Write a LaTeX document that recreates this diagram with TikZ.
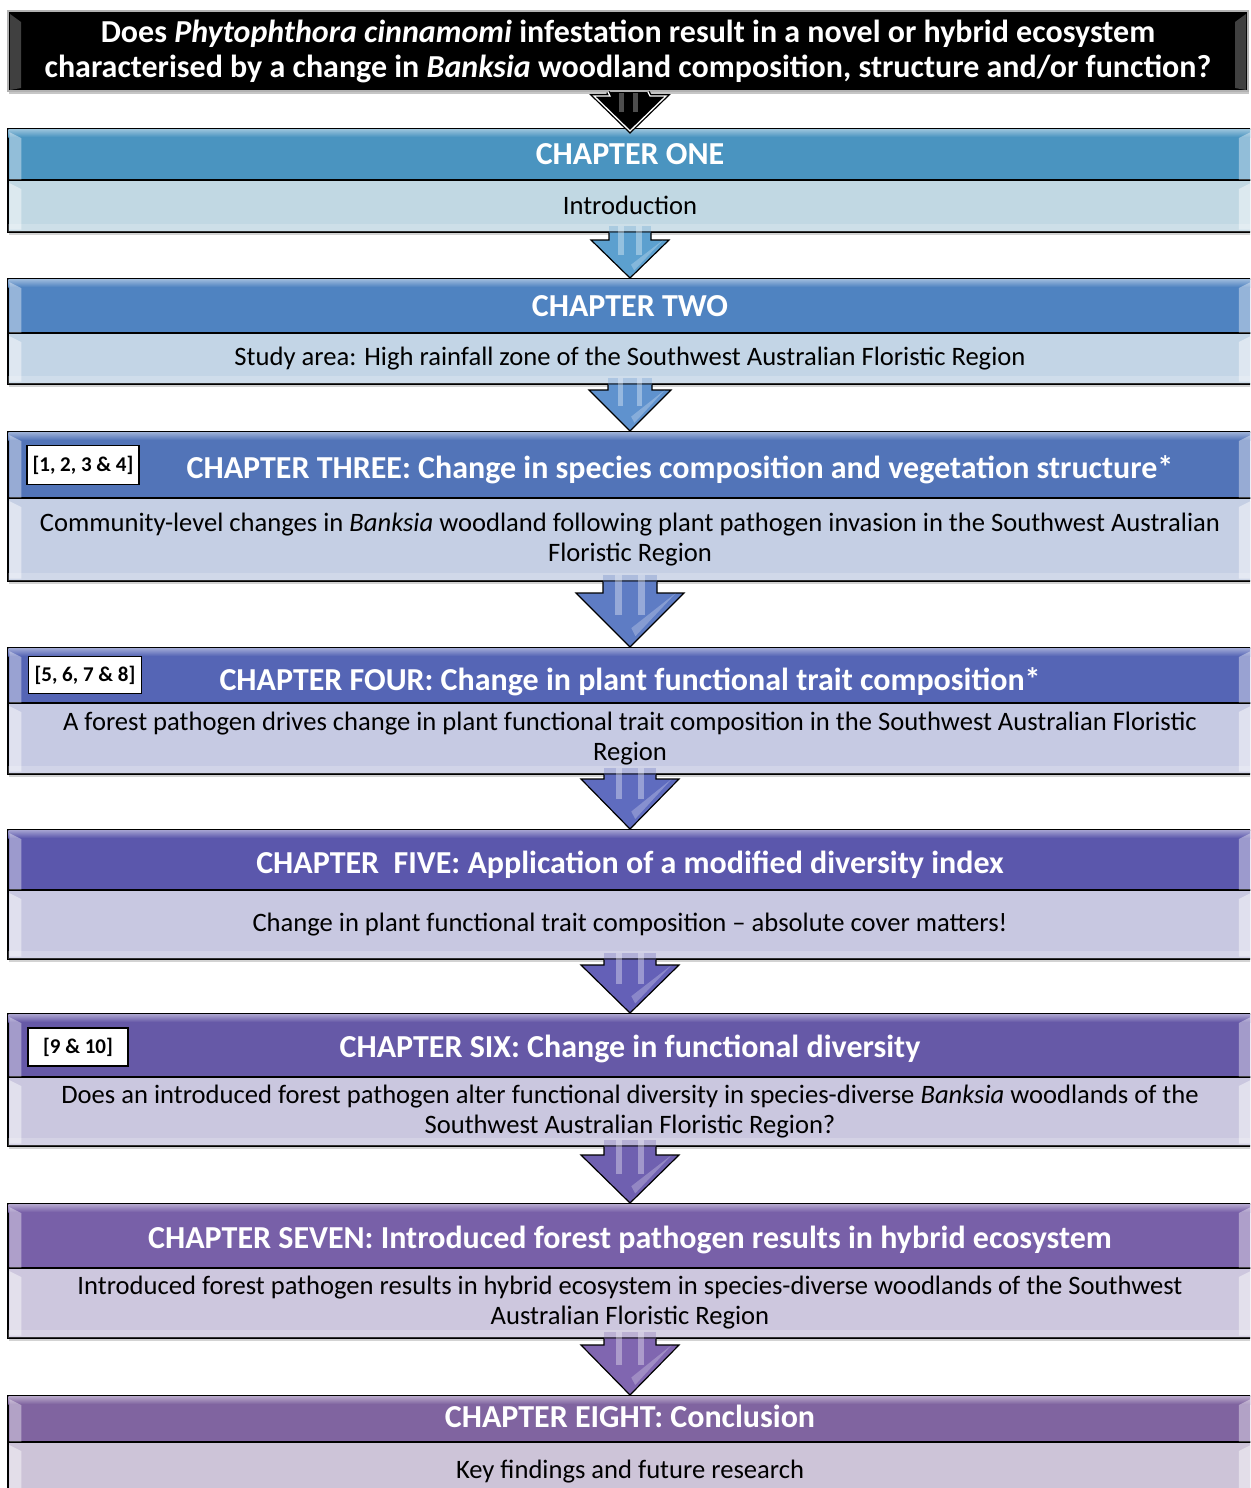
\documentclass[tikz,border=0pt]{standalone}
\usepackage{fontspec}
\setmainfont{Carlito}
\usetikzlibrary{calc,shadows}
\definecolor{h1}{RGB}{74,148,192}\definecolor{b1}{RGB}{193,216,227}\definecolor{a1}{RGB}{92,160,207}
\definecolor{h2}{RGB}{79,131,193}\definecolor{b2}{RGB}{195,213,230}\definecolor{a2}{RGB}{95,146,206}
\definecolor{h3}{RGB}{82,116,184}\definecolor{b3}{RGB}{197,207,228}\definecolor{a3}{RGB}{94,124,196}
\definecolor{h4}{RGB}{85,101,181}\definecolor{b4}{RGB}{198,202,227}\definecolor{a4}{RGB}{95,108,191}
\definecolor{h5}{RGB}{91,87,172}\definecolor{b5}{RGB}{200,200,225}\definecolor{a5}{RGB}{100,96,183}
\definecolor{h6}{RGB}{102,89,167}\definecolor{b6}{RGB}{202,199,223}\definecolor{a6}{RGB}{111,96,176}
\definecolor{h7}{RGB}{120,96,168}\definecolor{b7}{RGB}{205,199,222}\definecolor{a7}{RGB}{128,102,176}
\definecolor{h8}{RGB}{128,100,160}
\definecolor{b8}{RGB}{205,196,216}
\newcommand\titlefont{\bfseries\fontsize{32}{36}\selectfont}
\tikzset{
  hdr/.style={rectangle, draw=black, line width=1.5pt, minimum width=1244pt, anchor=north,
    inner sep=0pt},
  bdy/.style={rectangle, draw=black, line width=1.5pt, minimum width=1244pt, anchor=north,
    inner sep=0pt, font=\fontsize{26.6}{30}\selectfont, align=center,
    drop shadow={shadow xshift=1pt, shadow yshift=-3pt, opacity=0.35}},
  tagbox/.style={rectangle, draw=black, fill=white, line width=1.5pt, inner sep=0pt,
    font=\bfseries\fontsize{21}{24}\selectfont},
  qbox/.style={rectangle, draw=gray!60, fill=black, line width=2pt, minimum width=1240pt,
    minimum height=80pt, anchor=north, inner sep=0pt, align=center, text=white,
    font=\bfseries\fontsize{32}{35}\selectfont,
    drop shadow={shadow xshift=1pt, shadow yshift=-3pt, opacity=0.45}},
}
% name, top, divider, bottom, header colour, body colour, title, body text, title yshift
\newcommand\chapbox[9]{%
  \node[bdy, fill=#6, minimum height={#4-#3}] (#1b) at (630,#3) {#8};
  \node[hdr, fill=#5, minimum height={#3-#2}] (#1h) at (630,#2) {};
  \shade[top color=white!45!#5, bottom color=#5] ($(#1h.north west)+(1,1)$) rectangle ($(#1h.north east)+(-1,9)$);
  \fill[white, opacity=0.4] ($(#1h.north west)+(2,4)$) -- ($(#1h.north west)+(14,10)$) -- ($(#1h.south west)+(14,-1)$) -- ($(#1h.south west)+(2,-1)$) -- cycle;
  \fill[white, opacity=0.4] ($(#1h.north east)+(-2,4)$) -- ($(#1h.north east)+(-14,10)$) -- ($(#1h.south east)+(-14,-1)$) -- ($(#1h.south east)+(-2,-1)$) -- cycle;
  \fill[white, opacity=0.45] ($(#1b.north west)+(2,4)$) -- ($(#1b.north west)+(14,10)$) -- ($(#1b.south west)+(14,-3)$) -- ($(#1b.south west)+(2,-3)$) -- cycle;
  \fill[white, opacity=0.45] ($(#1b.north east)+(-2,4)$) -- ($(#1b.north east)+(-14,10)$) -- ($(#1b.south east)+(-14,-3)$) -- ($(#1b.south east)+(-2,-3)$) -- cycle;
  \fill[white, opacity=0.2] ($(#1b.south west)+(1,-9)$) rectangle ($(#1b.south east)+(-1,-1)$);
  \draw[black, line width=1.5pt] (#1h.south west) -- (#1h.south east);
  \node[font=\titlefont, text=white, yshift=#9] (#1t) at (#1h.center) {#7};
}
% from, to, shaft half width, head half width, head height, colour
\newcommand\chaparrow[6]{%
  \fill[#6, opacity=0.3] ($(#1.south)+(-#3,-7)$) rectangle ($(#1.south)+(#3,0)$);
  \filldraw[fill=#6, draw=black, line width=1.2pt, line join=miter]
    ($(#1.south)+(-#3,0)$) -- ($(#2.north)+(-#3,-#5)$) -- ($(#2.north)+(-#4,-#5)$) -- (#2.north)
    -- ($(#2.north)+(#4,-#5)$) -- ($(#2.north)+(#3,-#5)$) -- ($(#1.south)+(#3,0)$);
  \fill[white, opacity=0.35] ($(#1.south)+(-#3*0.55,-7)$) rectangle ($(#2.north)+(-#3*0.3,-#5*0.6)$);
  \fill[white, opacity=0.35] ($(#1.south)+(#3*0.3,-7)$) rectangle ($(#2.north)+(#3*0.55,-#5*0.6)$);
  \fill[white, opacity=0.25] ($(#2.north)+(#4*0.85,-#5)$) -- ($(#2.north)+(#3*0.2,-#5*0.2)$) -- ($(#2.north)+(#3*0.05,-#5*0.35)$) -- cycle;
}
\begin{document}
\begin{tikzpicture}[x=1pt, y=-1pt]
\useasboundingbox (0,0) rectangle (1250,1488);
\clip (0,0) rectangle (1250,1488);

\node[qbox] (q) at (628,10) {Does \textit{Phytophthora cinnamomi} infestation result in a novel or hybrid ecosystem\\characterised by a change in \textit{Banksia} woodland composition, structure and/or function?};
\fill[white, opacity=0.25] ($(q.north west)+(3,4)$) -- ($(q.north west)+(14,12)$) -- ($(q.south west)+(14,-4)$) -- ($(q.south west)+(3,-2)$) -- cycle;
\fill[white, opacity=0.25] ($(q.north east)+(-3,4)$) -- ($(q.north east)+(-14,12)$) -- ($(q.south east)+(-14,-4)$) -- ($(q.south east)+(-3,-2)$) -- cycle;

\chapbox{c1}{128}{179}{231}{h1}{b1}{CHAPTER ONE}{Introduction}{0pt}
\chapbox{c2}{278}{332}{383}{h2}{b2}{CHAPTER TWO}{Study area: High rainfall zone of the Southwest Australian Floristic Region}{0pt}
\chapbox{c3}{431}{497}{580}{h3}{b3}{\hspace*{100pt}CHAPTER THREE: Change in species composition and vegetation structure*}{Community-level changes in \textit{Banksia} woodland following plant pathogen invasion in the Southwest Australian\\Floristic Region}{-5pt}
\chapbox{c4}{647}{702}{773}{h4}{b4}{CHAPTER FOUR: Change in plant functional trait composition*}{A forest pathogen drives change in plant functional trait composition in the Southwest Australian Floristic\\Region}{-7pt}
\chapbox{c5}{829}{889}{958}{h5}{b5}{CHAPTER\ \ FIVE: Application of a modified diversity index}{Change in plant functional trait composition -- absolute cover matters!}{-5pt}
\chapbox{c6}{1013}{1076}{1145}{h6}{b6}{CHAPTER SIX: Change in functional diversity}{Does an introduced forest pathogen alter functional diversity in species-diverse \textit{Banksia} woodlands of the\\Southwest Australian Floristic Region?}{-4pt}
\chapbox{c7}{1203}{1267}{1337}{h7}{b7}{CHAPTER SEVEN: Introduced forest pathogen results in hybrid ecosystem}{Introduced forest pathogen results in hybrid ecosystem in species-diverse woodlands of the Southwest\\Australian Floristic Region}{-4pt}
\chapbox{c8}{1395}{1441}{1500}{h8}{b8}{CHAPTER EIGHT: Conclusion}{Key findings and future research}{2pt}

\node[tagbox, minimum width=112pt, minimum height=39pt] (t1) at (83,465) {[1, 2, 3 \& 4]};
\node[tagbox, minimum width=113pt, minimum height=37pt] (t2) at (85,675) {[5, 6, 7 \& 8]};
\node[tagbox, minimum width=100pt, minimum height=38pt] (t3) at (78,1047) {[9 \& 10]};

% top arrow (black with white rim)
\filldraw[fill=black, draw=black, line width=4pt, line join=miter]
  ($(q.south)+(-20,0)$) -- ($(c1h.north)+(-20,-32)$) -- ($(c1h.north)+(-36,-32)$) -- ($(c1h.north)+(0,3)$)
  -- ($(c1h.north)+(36,-32)$) -- ($(c1h.north)+(20,-32)$) -- ($(q.south)+(20,0)$);
\draw[white, line width=1.3pt, line join=miter]
  ($(q.south)+(-20,0)$) -- ($(c1h.north)+(-20,-32)$) -- ($(c1h.north)+(-36,-32)$) -- ($(c1h.north)+(0,3)$)
  -- ($(c1h.north)+(36,-32)$) -- ($(c1h.north)+(20,-32)$) -- ($(q.south)+(20,0)$);
\fill[white, opacity=0.3] ($(q.south)+(-9,1)$) rectangle ($(q.south)+(-4,20)$);
\fill[white, opacity=0.3] ($(q.south)+(5,1)$) rectangle ($(q.south)+(10,20)$);

\chaparrow{c1b}{c2h}{21}{39}{38}{a1}
\chaparrow{c2b}{c3h}{22}{41}{41}{a2}
\chaparrow{c3b}{c4h}{27}{54}{54}{a3}
\chaparrow{c4b}{c5h}{26}{49}{50}{a4}
\chaparrow{c5b}{c6h}{26}{49}{48}{a5}
\chaparrow{c6b}{c7h}{26}{49}{48}{a6}
\chaparrow{c7b}{c8h}{26}{49}{50}{a7}
\end{tikzpicture}
\end{document}
